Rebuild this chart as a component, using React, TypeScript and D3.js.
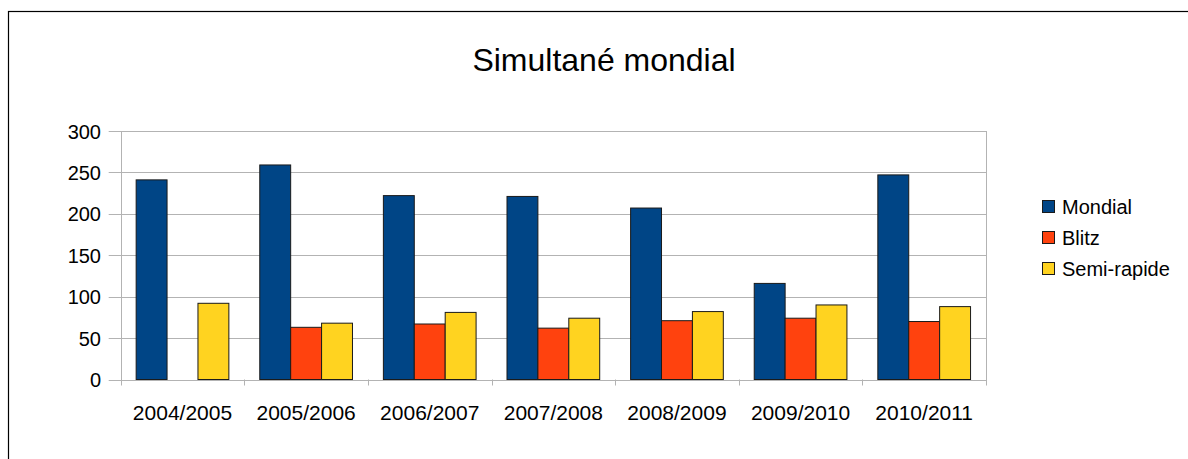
import * as d3 from "d3";
import { useEffect, useRef } from "react";

const seasons = ["2004/2005", "2005/2006", "2006/2007", "2007/2008", "2008/2009", "2009/2010", "2010/2011"];
const seriesNames = ["Mondial", "Blitz", "Semi-rapide"];
const mondial = [241, 259, 222, 221, 207, 116, 247];
const blitz = [0, 63, 67, 62, 71, 74, 70];
const semiRapide = [92, 68, 81, 74, 82, 90, 88];
const yTicks = [0, 50, 100, 150, 200, 250, 300];
const colors = ["#004586", "#ff420e", "#ffd320"];

export default function App() {
  const ref = useRef<SVGSVGElement>(null);

  useEffect(() => {
    document.body.style.margin = "0";
    if (!ref.current) return;

    const svg = d3.select(ref.current);
    svg.selectAll("*").remove();

    const width = 1188;
    const height = 459;
    const font = "'Liberation Sans', Arial, sans-serif";
    svg.attr("width", width).attr("height", height);

    // outer frame (only left + top visible in the reference)
    svg.append("rect")
      .attr("x", 8.5).attr("y", 11.5)
      .attr("width", width + 20).attr("height", height + 20)
      .attr("fill", "#fff").attr("stroke", "#000").attr("stroke-width", 1.2);

    const left = 120.7, right = 986, top = 131, bottom = 379.5;

    const x0 = d3.scaleBand<string>().domain(seasons).range([left, right]);
    const x1 = d3.scaleBand<string>().domain(seriesNames)
      .range([0, x0.bandwidth()]).paddingInner(0).paddingOuter(0.5);
    const y = d3.scaleLinear().domain([0, 300]).range([bottom, top]);

    const grid = "#b3b3b3";

    // horizontal grid + tick marks
    svg.append("g").selectAll("line")
      .data(yTicks).enter().append("line")
      .attr("x1", left - 12).attr("x2", right)
      .attr("y1", d => Math.round(y(d)) + 0.5).attr("y2", d => Math.round(y(d)) + 0.5)
      .attr("stroke", grid).attr("stroke-width", 1);

    // vertical frame lines + category ticks
    const bounds = seasons.map(s => x0(s)!).concat([right]);
    svg.append("g").selectAll("line")
      .data(bounds).enter().append("line")
      .attr("x1", d => Math.round(d) + 0.5).attr("x2", d => Math.round(d) + 0.5)
      .attr("y1", (d, i) => (i === 0 || i === bounds.length - 1 ? top : bottom))
      .attr("y2", bottom + 6)
      .attr("stroke", grid).attr("stroke-width", 1);

    // y labels
    svg.append("g").selectAll("text")
      .data(yTicks).enter().append("text")
      .attr("x", 101).attr("y", d => y(d) + 7.5)
      .attr("text-anchor", "end")
      .attr("font-family", font).attr("font-size", "20px").attr("fill", "#000")
      .text(d => d);

    // x labels
    svg.append("g").selectAll("text")
      .data(seasons).enter().append("text")
      .attr("x", d => x0(d)! + x0.bandwidth() / 2).attr("y", 420)
      .attr("text-anchor", "middle")
      .attr("font-family", font).attr("font-size", "21px").attr("fill", "#000")
      .text(d => d);

    // bars
    const values = [mondial, blitz, semiRapide];
    const g = svg.append("g");
    seriesNames.forEach((name, si) => {
      g.selectAll(null)
        .data(values[si].map((v, i) => ({ season: seasons[i], v })).filter(d => d.v > 0))
        .enter().append("rect")
        .attr("x", d => x0(d.season)! + x1(name)!)
        .attr("y", d => y(d.v))
        .attr("width", x1.bandwidth())
        .attr("height", d => bottom - y(d.v))
        .attr("fill", colors[si])
        .attr("stroke", "#1a1a1a").attr("stroke-width", 1);
    });

    // title
    svg.append("text")
      .attr("x", 604).attr("y", 71)
      .attr("text-anchor", "middle")
      .attr("font-family", font).attr("font-size", "32px").attr("fill", "#000")
      .text("Simultané mondial");

    // legend
    const legend = svg.append("g").attr("transform", "translate(1042, 200)");
    seriesNames.forEach((name, i) => {
      const row = legend.append("g").attr("transform", `translate(0, ${i * 31})`);
      row.append("rect")
        .attr("x", 0.5).attr("y", 0.5).attr("width", 12).attr("height", 12)
        .attr("fill", colors[i]).attr("stroke", "#1a1a1a").attr("stroke-width", 1);
      row.append("text")
        .attr("x", 20).attr("y", 14)
        .attr("font-family", font).attr("font-size", "20px").attr("fill", "#000")
        .text(name);
    });
  }, []);

  return <svg ref={ref} style={{ display: "block" }} />;
}
